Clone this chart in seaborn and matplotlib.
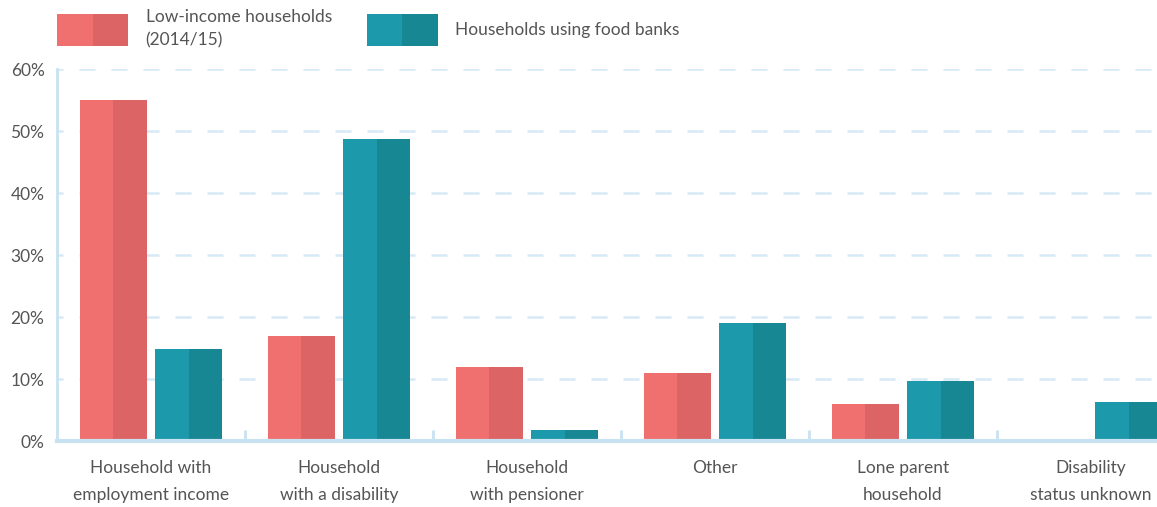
import matplotlib
matplotlib.use("Agg")
import matplotlib.pyplot as plt
from matplotlib.patches import Rectangle
from matplotlib.legend_handler import HandlerTuple
import pandas as pd
import seaborn as sns

categories = [
    "Household with\nemployment income",
    "Household\nwith a disability",
    "Household\nwith pensioner",
    "Other",
    "Lone parent\nhousehold",
    "Disability\nstatus unknown",
]
series_names = ["Low-income households\n(2014/15)", "Households using food banks"]
low_income = [55.0, 17.0, 12.0, 11.0, 6.0, 0.1]
food_banks = [14.8, 48.7, 1.8, 19.0, 9.7, 6.3]
y_ticks = [0, 10, 20, 30, 40, 50, 60]

light = ["#f07070", "#1c9aab"]
dark = ["#dc6464", "#188794"]
axis_blue = "#c8e2f2"
grid_blue = "#d6e9f5"
text_grey = "#555555"

df = pd.DataFrame({
    "category": categories * 2,
    "series": [series_names[0]] * len(categories) + [series_names[1]] * len(categories),
    "value": low_income + food_banks,
})

sns.set_theme(style="white")
plt.rcParams["font.family"] = ["Lato", "DejaVu Sans"]

W, H = 1157, 507
fig = plt.figure(figsize=(W / 100, H / 100), dpi=100)
# the plot area runs past the right edge, so the last group is cut off
ax = fig.add_axes([57 / W, 1 - 441 / H, 1128 / W, 372 / H])

sns.barplot(data=df, x="category", y="value", hue="series", order=categories,
            hue_order=series_names, palette=light, width=0.8, gap=0.1,
            saturation=1, linewidth=0, errorbar=None, legend=False, ax=ax)

# darker right half on every bar
n = len(categories)
for i, bar in enumerate(list(ax.patches)):
    s = i // n
    x, w, h = bar.get_x(), bar.get_width(), bar.get_height()
    ax.add_patch(Rectangle((x + w / 2, 0), w / 2, h, facecolor=dark[s],
                           linewidth=0, zorder=bar.get_zorder()))

ax.set_xlim(-0.5, n - 0.5)
ax.set_ylim(0, 60)
ax.set_yticks(y_ticks)
ax.set_yticklabels([f"{t}%" for t in y_ticks])
ax.set_xlabel("")
ax.set_ylabel("")

ax.yaxis.grid(True, color=grid_blue, linewidth=1.8, linestyle=(4, (6.4, 6.4)))
ax.set_axisbelow(True)
for side in ["top", "right"]:
    ax.spines[side].set_visible(False)
ax.spines["left"].set_color(axis_blue)
ax.spines["left"].set_linewidth(2)
ax.spines["bottom"].set_color(axis_blue)
ax.spines["bottom"].set_linewidth(3)
ax.spines["bottom"].set_zorder(5)

# category boundary ticks on the baseline
ax.set_xticks([i + 0.5 for i in range(n - 1)], minor=True)
ax.tick_params(axis="x", which="minor", direction="in", length=8, width=2,
               color=axis_blue, bottom=True)
ax.tick_params(axis="x", which="major", length=0, pad=14, labelsize=12.5,
               labelcolor=text_grey)
ax.tick_params(axis="y", length=0, pad=9, labelsize=12.5, labelcolor=text_grey)
for lbl in ax.get_xticklabels():
    lbl.set_linespacing(1.85)

handles = [(Rectangle((0, 0), 1, 1, fc=light[k], lw=0),
            Rectangle((0, 0), 1, 1, fc=dark[k], lw=0)) for k in range(2)]
leg = fig.legend(handles, series_names,
                 handler_map={tuple: HandlerTuple(ndivide=None, pad=0)},
                 loc="upper left", bbox_to_anchor=(57 / W, 1 - 9 / H), ncol=2,
                 frameon=False, borderpad=0, borderaxespad=0,
                 handlelength=4.1, handleheight=2.5, handletextpad=1.0,
                 columnspacing=2.0, fontsize=12.5, labelcolor=text_grey)
for t in leg.get_texts():
    t.set_linespacing(1.55)

fig.savefig("out.png", dpi=100, facecolor="white")
